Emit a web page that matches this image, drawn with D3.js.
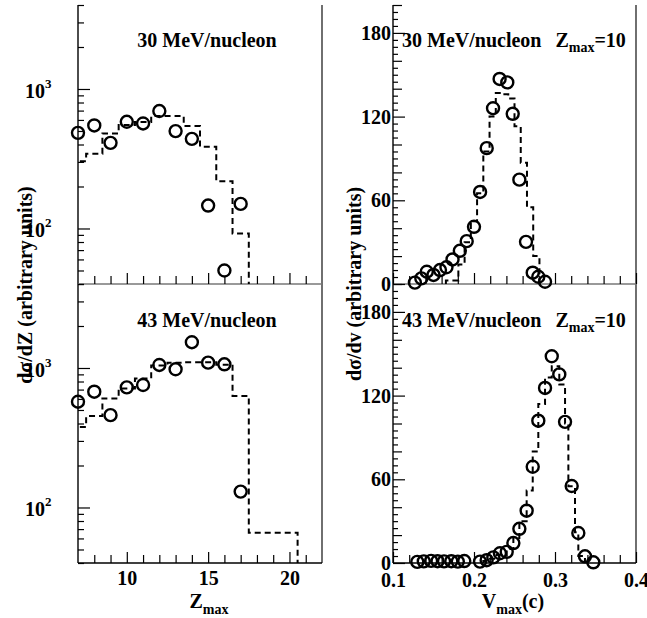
<!DOCTYPE html>
<html>
<head>
<meta charset="utf-8">
<script src="https://cdn.jsdelivr.net/npm/d3@7"></script>
<style>
  body { margin: 0; background: #fff; }
  svg { display: block; }
  text { font-family: "Liberation Serif", "Times New Roman", serif; font-weight: bold; fill: #000; }
</style>
</head>
<body>
<svg id="fig" width="647" height="618"></svg>
<script>
// ---- Z_max distributions (log scale) ----
const zData = [7, 8, 9, 10, 11, 12, 13, 14, 15, 16, 17];
const dsdz30 = [485, 548, 411, 582, 566, 695, 499, 439, 146, 50, 150];
const dsdz43 = [573, 676, 459, 726, 755, 1051, 979, 1530, 1092, 1063, 130];

// model histograms, one value per unit bin centred on the integer
const zSim30 = [7, 8, 9, 10, 11, 12, 13, 14, 15, 16, 17];
const dsdzSim30 = [303, 343, 480, 551, 580, 640, 640, 542, 385, 218, 92];
const zSim43 = [7, 8, 9, 10, 11, 12, 13, 14, 15, 16, 17, 18, 19, 20];
const dsdzSim43 = [378, 452, 605, 714, 840, 1040, 1092, 1100, 1100, 1057, 630, 66, 66, 66];

// ---- V_max distributions for Z_max = 10 ----
const v30 = [0.127, 0.135, 0.1417, 0.150, 0.158, 0.166, 0.1735, 0.1825, 0.191, 0.200, 0.2075,
             0.2157, 0.2235, 0.2316, 0.2411, 0.2478, 0.256, 0.2642, 0.2725, 0.2794, 0.2877];
const dsdv30 = [1, 4, 8.8, 6.5, 10, 12, 17.6, 23.8, 30.7, 41, 66,
                97.4, 126, 147, 144.5, 122, 74.8, 30.2, 8.1, 5.2, 1.6];

const v43 = [0.130, 0.138, 0.147, 0.155, 0.163, 0.172, 0.180, 0.188, 0.2074, 0.2156,
             0.2239, 0.232, 0.2404, 0.2486, 0.256, 0.265, 0.2725, 0.2794, 0.2877, 0.296,
             0.3053, 0.3124, 0.3206, 0.3288, 0.337, 0.3473];
const dsdv43 = [0.8, 1.2, 1.5, 1.3, 1.2, 1.3, 1.0, 1.4, 1.0, 2,
                4, 7, 8, 14.3, 24.5, 37.5, 69, 102, 125.5, 148.2,
                135.2, 101.2, 55.2, 21.5, 4.8, 0.5];

// model histograms: bin edges and contents
const vSimEdges30 = [0.1653, 0.1730, 0.1807, 0.1884, 0.1961, 0.2038, 0.2115, 0.2192, 0.2269,
                     0.2346, 0.2423, 0.2500, 0.2577, 0.2654, 0.2731, 0.2808];
const dsdvSim30 = [2.5, 2.5, 14, 30, 45, 65, 95, 120, 137, 136, 133, 113, 87, 55, 20];
const vSimEdges43 = [0.2115, 0.2198, 0.2280, 0.2404, 0.2486, 0.2560, 0.2650, 0.2725, 0.2794,
                     0.2877, 0.2960, 0.3053, 0.3124, 0.3165, 0.3247, 0.3288, 0.3370];
const dsdvSim43 = [1.5, 3, 6, 10, 18, 30, 52, 80, 114, 133, 141, 128, 100, 55, 22, 5];

// tick labels
const zTickLabels = [10, 15, 20];
const vTickLabels = [0.1, 0.2, 0.3, 0.4];
const countTickLabels = [0, 60, 120, 180];

// ---------------------------------------------------------------
const W = 647, H = 618;
const svg = d3.select('#fig');
svg.append('rect').attr('width', W).attr('height', H).attr('fill', '#fff');

const colL = { x0: 78, x1: 322 }, colR = { x0: 393, x1: 636 };
const rowT = { y0: 5, y1: 284 }, rowB = { y0: 284, y1: 563 };

const xZ = d3.scaleLinear().domain([7, 22]).range([colL.x0, colL.x1]);
const xV = d3.scaleLinear().domain([0.1, 0.4]).range([colR.x0, colR.x1]);
const yLogT = d3.scaleLog().domain([40, 4000]).range([rowT.y1, rowT.y0]);
const yLogB = d3.scaleLog().domain([40, 4000]).range([rowB.y1, rowB.y0]);
const yLinT = d3.scaleLinear().domain([0, 200]).range([rowT.y1, rowT.y0]);
const yLinB = d3.scaleLinear().domain([0, 200]).range([rowB.y1, rowB.y0]);

const FS = 20, FS_SMALL = 13;

function tickSet(axisFn, scale, transform, values, len) {
  svg.append('g')
    .attr('transform', transform)
    .call(axisFn(scale).tickValues(values).tickSize(-len).tickSizeOuter(0).tickFormat(''))
    .call(g => g.select('.domain').remove())
    .selectAll('line').attr('stroke', '#000').attr('stroke-width', 1.2);
}

function numberLabels(axisFn, scale, transform, values, fmt, pad) {
  svg.append('g')
    .attr('transform', transform)
    .call(axisFn(scale).tickValues(values).tickSize(0).tickPadding(pad).tickFormat(fmt))
    .call(g => g.select('.domain').remove())
    .call(g => g.selectAll('line').remove())
    .attr('font-family', null).attr('font-size', null)
    .selectAll('text')
      .style('font-family', '"Liberation Serif", serif')
      .style('font-weight', 'bold')
      .style('font-size', FS + 'px')
      .attr('fill', '#000');
}

// ---- frames ----
function frame(col) {
  const f = svg.append('g').attr('fill', 'none');
  f.append('line').attr('x1', col.x0).attr('x2', col.x0).attr('y1', rowT.y0).attr('y2', rowB.y1)
    .attr('stroke', '#000').attr('stroke-width', 1.4);
  f.append('line').attr('x1', col.x1).attr('x2', col.x1).attr('y1', rowT.y0).attr('y2', rowB.y1)
    .attr('stroke', '#333').attr('stroke-width', 1.4);
  f.append('line').attr('x1', col.x0).attr('x2', col.x1).attr('y1', rowT.y1).attr('y2', rowT.y1)
    .attr('stroke', '#777').attr('stroke-width', 1.4);
  f.append('line').attr('x1', col.x0).attr('x2', col.x1).attr('y1', rowB.y1).attr('y2', rowB.y1)
    .attr('stroke', '#000').attr('stroke-width', 1.4);
}
frame(colL);
frame(colR);

// ---- left column axes (log y, Z_max on x) ----
[yLogT, yLogB].forEach(ys => {
  const all = ys.ticks();
  const major = all.filter(t => Math.abs(Math.log10(t) - Math.round(Math.log10(t))) < 1e-9);
  const minor = all.filter(t => !major.includes(t));
  tickSet(d3.axisLeft, ys, `translate(${colL.x0},0)`, minor, 6);
  tickSet(d3.axisLeft, ys, `translate(${colL.x0},0)`, major, 12);
  major.forEach(t => {
    const e = Math.round(Math.log10(t));
    svg.append('text')
      .attr('x', colL.x0 - 33).attr('y', ys(t) + 9)
      .attr('text-anchor', 'end').style('font-size', FS + 'px')
      .text('10');
    svg.append('text')
      .attr('x', colL.x0 - 33).attr('y', ys(t) - 1)
      .attr('text-anchor', 'start').style('font-size', FS_SMALL + 'px')
      .text(e);
  });
});
const zMinor = d3.range(8, 22, 1).filter(z => !zTickLabels.includes(z));
[rowT.y1, rowB.y1].forEach(yy => {
  tickSet(d3.axisBottom, xZ, `translate(0,${yy})`, zMinor, 8);
  tickSet(d3.axisBottom, xZ, `translate(0,${yy})`, zTickLabels, 11);
});
numberLabels(d3.axisBottom, xZ, `translate(0,${rowB.y1})`, zTickLabels, d3.format('d'), 8);

// ---- right column axes (linear y, V_max on x) ----
[yLinT, yLinB].forEach(ys => {
  const all = d3.range(0, 201, 5);
  tickSet(d3.axisLeft, ys, `translate(${colR.x0},0)`, all.filter(v => v % 20 !== 0), 5);
  tickSet(d3.axisLeft, ys, `translate(${colR.x0},0)`, all.filter(v => v % 20 === 0 && v % 60 !== 0), 9);
  tickSet(d3.axisLeft, ys, `translate(${colR.x0},0)`, countTickLabels, 12);
  numberLabels(d3.axisLeft, ys, `translate(${colR.x0 - 1},0)`, countTickLabels, d3.format('d'), 1);
});
const vMinor = d3.range(6, 20, 1).map(k => +(k * 0.02).toFixed(2)).filter(v => v % 0.1 > 1e-6 && 0.1 - (v % 0.1) > 1e-6);
[rowT.y1, rowB.y1].forEach(yy => {
  tickSet(d3.axisBottom, xV, `translate(0,${yy})`, vMinor, 8);
  tickSet(d3.axisBottom, xV, `translate(0,${yy})`, vTickLabels, 11);
});
numberLabels(d3.axisBottom, xV, `translate(0,${rowB.y1})`, vTickLabels, d3.format('.1f'), 10);

// ---- clip paths for the Z panels ----
const defs = svg.append('defs');
[['clipLT', rowT], ['clipLB', rowB]].forEach(([id, row]) => {
  defs.append('clipPath').attr('id', id).append('rect')
    .attr('x', colL.x0).attr('y', row.y0)
    .attr('width', colL.x1 - colL.x0).attr('height', row.y1 - row.y0);
});

// ---- step histograms ----
function stepPoints(edges, vals, floor, startFromFloor) {
  const pts = [];
  if (startFromFloor) pts.push([edges[0], floor]);
  vals.forEach((v, i) => { pts.push([edges[i], v]); pts.push([edges[i + 1], v]); });
  pts.push([edges[edges.length - 1], floor]);
  return pts;
}
function drawStep(pts, xs, ys, clip) {
  const p = svg.append('path')
    .attr('d', d3.line().x(d => xs(d[0])).y(d => ys(d[1]))(pts))
    .attr('fill', 'none').attr('stroke', '#000')
    .attr('stroke-width', 2).attr('stroke-dasharray', '6,4');
  if (clip) p.attr('clip-path', `url(#${clip})`);
}
const zEdges = arr => arr.map(z => z - 0.5).concat([arr[arr.length - 1] + 0.5]);
drawStep(stepPoints(zEdges(zSim30), dsdzSim30, yLogT.domain()[0] * 0.5, false), xZ, yLogT, 'clipLT');
drawStep(stepPoints(zEdges(zSim43), dsdzSim43, yLogB.domain()[0] * 0.5, false), xZ, yLogB, 'clipLB');
drawStep(stepPoints(vSimEdges30, dsdvSim30, 0, true), xV, yLinT, null);
drawStep(stepPoints(vSimEdges43, dsdvSim43, 0, true), xV, yLinB, null);

// ---- data markers ----
function markers(xs, ys, xv, yv) {
  svg.append('g').selectAll('circle')
    .data(xv.map((x, i) => [x, yv[i]]))
    .join('circle')
    .attr('cx', d => xs(d[0])).attr('cy', d => ys(d[1]))
    .attr('r', 6).attr('fill', 'none').attr('stroke', '#000').attr('stroke-width', 2.4);
}
markers(xZ, yLogT, zData, dsdz30);
markers(xZ, yLogB, zData, dsdz43);
markers(xV, yLinT, v30, dsdv30);
markers(xV, yLinB, v43, dsdv43);

// ---- panel captions ----
svg.append('text').attr('x', 207).attr('y', 47).attr('text-anchor', 'middle')
  .style('font-size', FS + 'px').text('30 MeV/nucleon');
svg.append('text').attr('x', 207).attr('y', 327).attr('text-anchor', 'middle')
  .style('font-size', FS + 'px').text('43 MeV/nucleon');
function zCaption(label, y) {
  const t = svg.append('text').attr('x', 402).attr('y', y).style('font-size', FS + 'px');
  t.append('tspan').text(label);
  t.append('tspan').attr('dx', 14).text('Z');
  t.append('tspan').attr('dy', 5).style('font-size', '14px').text('max');
  t.append('tspan').attr('dy', -5).text('=10');
}
zCaption('30 MeV/nucleon', 47);
zCaption('43 MeV/nucleon', 327);

// ---- axis titles ----
function subTitle(x, y, main, sub, tail) {
  const t = svg.append('text').attr('x', x).attr('y', y).attr('text-anchor', 'middle')
    .style('font-size', FS + 'px');
  t.append('tspan').text(main);
  t.append('tspan').attr('dy', 6).style('font-size', '14px').text(sub);
  if (tail) t.append('tspan').attr('dy', -6).text(tail);
}
subTitle(209, 608, 'Z', 'max', null);
subTitle(513, 608, 'V', 'max', '(c)');

svg.append('text')
  .attr('transform', 'translate(32,285) rotate(-90)')
  .attr('text-anchor', 'middle').style('font-size', FS + 'px')
  .text('dσ/dZ (arbitrary units)');
svg.append('text')
  .attr('transform', 'translate(361,284) rotate(-90)')
  .attr('text-anchor', 'middle').style('font-size', FS + 'px')
  .text('dσ/dv (arbitrary units)');
</script>
</body>
</html>
